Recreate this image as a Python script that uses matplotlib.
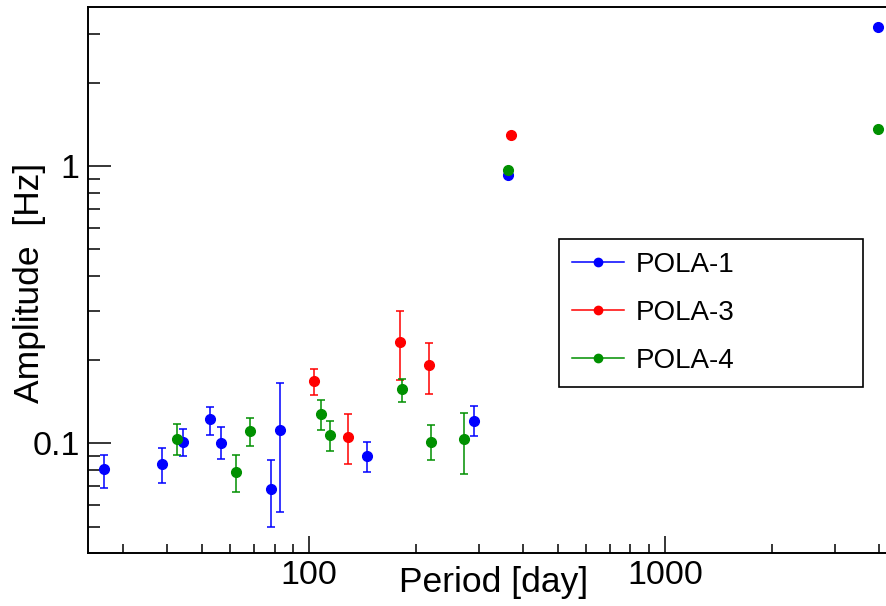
import numpy as np
import matplotlib.pyplot as plt
from matplotlib.lines import Line2D
from matplotlib.ticker import LogLocator, NullFormatter, FixedLocator, FixedFormatter

plt.rcParams['font.family'] = ['Liberation Sans', 'DejaVu Sans']

# POLA-1 (blue)
pola1_period = [26.6, 38.6, 44.3, 52.6, 56.7, 78.2, 83.1, 145.8, 290.0, 363.0, 3958.0]
pola1_amp = [0.0804, 0.0838, 0.1011, 0.1218, 0.1000, 0.0682, 0.1117, 0.0898, 0.1201, 0.928, 3.17]
pola1_hi = [0.0907, 0.0957, 0.1126, 0.1346, 0.1139, 0.0868, 0.1651, 0.1008, 0.1360, 0.928, 3.17]
pola1_lo = [0.0690, 0.0721, 0.0895, 0.1069, 0.0878, 0.0497, 0.0565, 0.0788, 0.1060, 0.928, 3.17]

# POLA-3 (red)
pola3_period = [103.0, 128.3, 180.1, 217.8, 368.6]
pola3_amp = [0.1674, 0.1055, 0.2321, 0.1908, 1.294]
pola3_hi = [0.1845, 0.1276, 0.2989, 0.2302, 1.294]
pola3_lo = [0.1487, 0.0840, 0.1688, 0.1499, 1.294]

# POLA-4 (green)
pola4_period = [42.7, 62.2, 68.3, 108.4, 114.9, 182.1, 219.8, 273.0, 363.0, 3958.0]
pola4_amp = [0.1034, 0.0786, 0.1105, 0.1275, 0.1069, 0.1566, 0.1008, 0.1031, 0.967, 1.357]
pola4_hi = [0.1168, 0.0905, 0.1231, 0.1430, 0.1204, 0.1702, 0.1164, 0.1286, 0.967, 1.357]
pola4_lo = [0.0905, 0.0667, 0.0978, 0.1114, 0.0938, 0.1403, 0.0868, 0.0777, 0.967, 1.357]

series = [
    ("POLA-1", pola1_period, pola1_amp, pola1_lo, pola1_hi, "#0000ff"),
    ("POLA-3", pola3_period, pola3_amp, pola3_lo, pola3_hi, "#ff0000"),
    ("POLA-4", pola4_period, pola4_amp, pola4_lo, pola4_hi, "#009000"),
]

fig = plt.figure(figsize=(8.87, 6.06), dpi=100)
ax = fig.add_axes([0.0992, 0.0868, 0.9008, 0.9016])

handles = []
for name, per, amp, lo, hi, col in series:
    amp = np.array(amp)
    yerr = [amp - np.array(lo), np.array(hi) - amp]
    ax.errorbar(per, amp, yerr=yerr, fmt='o', color=col, ms=7, elinewidth=1.1,
                capsize=3, capthick=1.1)
    # ROOT style legend entry: line + marker
    handles.append(Line2D([], [], color=col, lw=1.1, marker='o', ms=6, label=name))

ax.set_xscale('log')
ax.set_yscale('log')
ax.set_xlim(23.94, 4204)
ax.set_ylim(0.04, 3.75)

# ticks like ROOT: inside, only bottom and left
ax.xaxis.set_major_locator(FixedLocator([100, 1000]))
ax.xaxis.set_major_formatter(FixedFormatter(['100', '1000']))
ax.xaxis.set_minor_locator(LogLocator(base=10, subs=np.arange(2, 10)))
ax.xaxis.set_minor_formatter(NullFormatter())
ax.yaxis.set_major_locator(FixedLocator([0.1, 1]))
ax.yaxis.set_major_formatter(FixedFormatter(['0.1', '1']))
ax.yaxis.set_minor_locator(LogLocator(base=10, subs=np.arange(2, 10)))
ax.yaxis.set_minor_formatter(NullFormatter())

ax.tick_params(axis='x', which='major', direction='in', length=12, width=1.1, labelsize=24.5, pad=5)
ax.tick_params(axis='x', which='minor', direction='in', length=6.5, width=1.1)
ax.tick_params(axis='y', which='major', direction='in', length=16.5, width=1.1, labelsize=24.5, pad=6)
ax.tick_params(axis='y', which='minor', direction='in', length=8.5, width=1.1)

for side in ['left', 'bottom', 'top']:
    ax.spines[side].set_linewidth(1.4)
ax.spines['right'].set_visible(False)

ax.set_xlabel("Period [day]", fontsize=25.5, va='center')
ax.xaxis.set_label_coords(0.508, -0.0525)
ax.set_ylabel("Amplitude  [Hz]", fontsize=25.5, va='center')
ax.yaxis.set_label_coords(-0.0726, 0.495)

leg = ax.legend(handles=handles, loc='upper left',
                bbox_to_anchor=(0.5895, 0.3136, 0.3805, 0.2617), mode='expand',
                fontsize=20, frameon=True, fancybox=False, edgecolor='black', framealpha=1,
                handlelength=1.9, borderpad=0.45, labelspacing=0.8, handletextpad=0.4,
                borderaxespad=0)
leg.get_frame().set_linewidth(1.2)

fig.savefig("out.png", dpi=100)
